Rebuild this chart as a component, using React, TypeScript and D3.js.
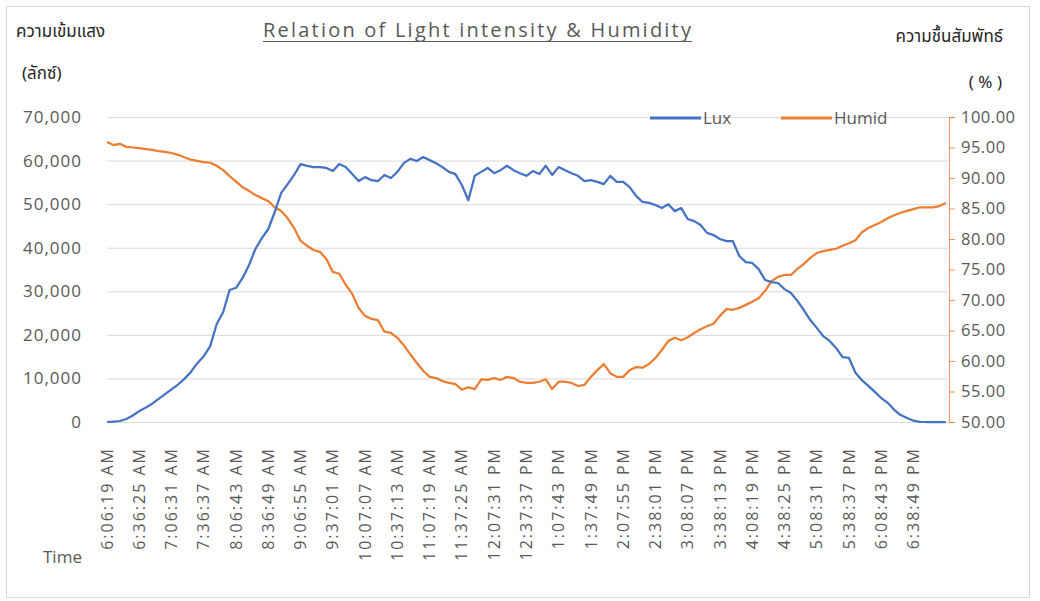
import { useEffect, useRef } from "react";
import * as d3 from "d3";

// x axis labels, one for every 10th sample (about 3 min per sample)
const timeLabels = [
  "6:06:19 AM", "6:36:25 AM", "7:06:31 AM", "7:36:37 AM", "8:06:43 AM",
  "8:36:49 AM", "9:06:55 AM", "9:37:01 AM", "10:07:07 AM", "10:37:13 AM",
  "11:07:19 AM", "11:37:25 AM", "12:07:31 PM", "12:37:37 PM", "1:07:43 PM",
  "1:37:49 PM", "2:07:55 PM", "2:38:01 PM", "3:08:07 PM", "3:38:13 PM",
  "4:08:19 PM", "4:38:25 PM", "5:08:31 PM", "5:38:37 PM", "6:08:43 PM",
  "6:38:49 PM",
];

// readings taken every 2nd sample
const luxValues = [
  0, 100, 230, 700, 1500, 2500, 3300, 4200, 5300, 6400,
  7500, 8600, 9900, 11500, 13500, 15100, 17400, 22500, 25200, 30300,
  30800, 33000, 36000, 39700, 42200, 44300, 48200, 52600, 54600, 56700,
  59200, 58800, 58500, 58500, 58300, 57600, 59200, 58500, 56900, 55300,
  56200, 55500, 55300, 56700, 56000, 57400, 59400, 60400, 59900, 60800,
  60100, 59400, 58500, 57400, 56900, 54400, 50900, 56500, 57400, 58300,
  57100, 57800, 58800, 57800, 57100, 56500, 57600, 56900, 58800, 56700,
  58500, 57800, 57100, 56500, 55300, 55500, 55100, 54600, 56500, 55100,
  55100, 53900, 51900, 50500, 50300, 49800, 49100, 50000, 48400, 49100,
  46600, 46100, 45200, 43400, 42900, 42000, 41500, 41500, 38100, 36700,
  36500, 35100, 32600, 32100, 31900, 30500, 29600, 27800, 25700, 23400,
  21600, 19700, 18600, 17000, 14900, 14700, 11300, 9600, 8300, 6900,
  5500, 4400, 2800, 1600, 900, 300, 50, 0, 0, 0, 0,
];

const humidValues = [
  95.9, 95.4, 95.6, 95.1, 95.0, 94.9, 94.75, 94.6, 94.4, 94.3,
  94.1, 93.8, 93.4, 93.0, 92.8, 92.6, 92.5, 92.0, 91.3, 90.3,
  89.4, 88.5, 87.9, 87.2, 86.7, 86.2, 85.2, 84.6, 83.4, 81.8,
  79.7, 78.9, 78.2, 77.9, 76.7, 74.6, 74.3, 72.5, 71.0, 68.7,
  67.4, 66.9, 66.7, 64.8, 64.6, 63.8, 62.6, 61.1, 59.7, 58.4,
  57.4, 57.2, 56.7, 56.4, 56.2, 55.3, 55.7, 55.4, 57.0, 56.9,
  57.2, 56.9, 57.4, 57.2, 56.6, 56.4, 56.4, 56.6, 57.0, 55.4,
  56.6, 56.6, 56.4, 55.9, 56.1, 57.4, 58.5, 59.5, 58.0, 57.4,
  57.4, 58.5, 59.0, 58.9, 59.5, 60.5, 61.8, 63.3, 63.8, 63.4,
  63.9, 64.6, 65.2, 65.7, 66.1, 67.4, 68.5, 68.4, 68.7, 69.2,
  69.7, 70.3, 71.5, 73.1, 73.8, 74.1, 74.1, 75.1, 75.9, 76.9,
  77.7, 78.0, 78.2, 78.4, 78.9, 79.3, 79.8, 81.1, 81.8, 82.3,
  82.8, 83.4, 83.9, 84.3, 84.6, 84.9, 85.2, 85.2, 85.2, 85.4, 85.9,
];

const luxTicks = [0, 10000, 20000, 30000, 40000, 50000, 60000, 70000];
const humidTicks = [50, 55, 60, 65, 70, 75, 80, 85, 90, 95, 100];

const W = 1040;
const H = 601;
const FONT = "'Open Sans', 'Noto Sans', sans-serif";
const THAI = "'Noto Sans Thai', 'Tahoma', 'Loma', 'Garuda', 'Noto Sans', sans-serif";
const TEXT = "#595959";
const BLUE = "#4472C4";
const ORANGE = "#ED7D31";

const App = () => {
  const ref = useRef<SVGSVGElement | null>(null);

  useEffect(() => {
    if (!ref.current) return;
    const svg = d3.select(ref.current);
    svg.selectAll("*").remove();

    const margin = { top: 117, right: 91, bottom: 179, left: 107 };
    const x0 = margin.left;
    const x1 = W - margin.right;
    const y0 = margin.top;
    const y1 = H - margin.bottom;

    const x = d3.scaleLinear().domain([0, 261]).range([x0, x1]);
    const yLux = d3.scaleLinear().domain([0, 70000]).range([y1, y0]);
    const yHum = d3.scaleLinear().domain([50, 100]).range([y1, y0]);

    svg.append("rect").attr("width", W).attr("height", H).attr("fill", "#fff");
    // chart frame
    svg
      .append("rect")
      .attr("x", 6.5)
      .attr("y", 6.5)
      .attr("width", 1023)
      .attr("height", 591)
      .attr("fill", "none")
      .attr("stroke", "#d9d9d9");

    // gridlines
    svg
      .append("g")
      .attr("transform", `translate(${x0},0)`)
      .call(d3.axisLeft(yLux).tickValues(luxTicks).tickSize(-(x1 - x0)).tickFormat(() => ""))
      .call((g) => g.select(".domain").remove())
      .call((g) => g.selectAll("line").attr("stroke", "#d9d9d9"));

    // left axis labels
    svg
      .append("g")
      .selectAll("text")
      .data(luxTicks)
      .enter()
      .append("text")
      .attr("x", 82)
      .attr("y", (d) => yLux(d))
      .attr("dy", "0.35em")
      .attr("text-anchor", "end")
      .style("font-family", FONT)
      .style("font-size", "17px")
      .style("letter-spacing", "1px")
      .style("fill", TEXT)
      .text((d) => d3.format(",")(d));

    // right axis
    const right = svg
      .append("g")
      .attr("transform", `translate(${x1},0)`)
      .call(d3.axisRight(yHum).tickValues(humidTicks).tickSize(6).tickPadding(6).tickFormat(d3.format(".2f")));
    right.select(".domain").attr("stroke", ORANGE).attr("stroke-opacity", 0.8);
    right.selectAll("line").attr("stroke", ORANGE).attr("stroke-opacity", 0.8);
    right
      .selectAll("text")
      .style("font-family", FONT)
      .style("font-size", "16.5px")
      .style("letter-spacing", "0.5px")
      .style("fill", TEXT);

    // x labels
    svg
      .append("g")
      .selectAll("text")
      .data(timeLabels)
      .enter()
      .append("text")
      .attr("transform", (d, i) => `translate(${x(i * 10)},447) rotate(-90)`)
      .attr("dy", "0.35em")
      .attr("text-anchor", "end")
      .style("font-family", FONT)
      .style("font-size", "16px")
      .style("letter-spacing", "2px")
      .style("fill", TEXT)
      .text((d) => d);

    // lines
    const luxLine = d3
      .line<number>()
      .x((d, i) => x(i * 2))
      .y((d) => yLux(d));
    const humLine = d3
      .line<number>()
      .x((d, i) => x(i * 2))
      .y((d) => yHum(d));

    svg
      .append("path")
      .datum(humidValues)
      .attr("d", humLine)
      .attr("fill", "none")
      .attr("stroke", ORANGE)
      .attr("stroke-width", 2.25)
      .attr("stroke-linejoin", "round");

    svg
      .append("path")
      .datum(luxValues)
      .attr("d", luxLine)
      .attr("fill", "none")
      .attr("stroke", BLUE)
      .attr("stroke-width", 2.25)
      .attr("stroke-linejoin", "round");

    // legend
    const legend = [
      { name: "Lux", color: BLUE, x: 650 },
      { name: "Humid", color: ORANGE, x: 781 },
    ];
    const lg = svg.append("g");
    legend.forEach((l) => {
      lg.append("line")
        .attr("x1", l.x)
        .attr("x2", l.x + 51)
        .attr("y1", y0 + 1)
        .attr("y2", y0 + 1)
        .attr("stroke", l.color)
        .attr("stroke-width", 3);
      lg.append("text")
        .attr("x", l.x + 53)
        .attr("y", y0 + 1)
        .attr("dy", "0.35em")
        .style("font-family", FONT)
        .style("font-size", "17px")
        .style("fill", TEXT)
        .text(l.name);
    });

    // title
    svg
      .append("text")
      .attr("x", 477)
      .attr("y", 37)
      .attr("text-anchor", "middle")
      .attr("textLength", 428)
      .attr("lengthAdjust", "spacing")
      .style("font-family", FONT)
      .style("font-size", "20px")
      .style("fill", TEXT)
      .text("Relation of Light intensity & Humidity");
    svg
      .append("line")
      .attr("x1", 263)
      .attr("x2", 692)
      .attr("y1", 41.5)
      .attr("y2", 41.5)
      .attr("stroke", TEXT)
      .attr("stroke-width", 1);

    // axis titles
    const label = (t: string, xx: number, yy: number, anchor: string, family: string, size: number) =>
      svg
        .append("text")
        .attr("x", xx)
        .attr("y", yy)
        .attr("text-anchor", anchor)
        .style("font-family", family)
        .style("font-size", `${size}px`)
        .style("fill", "#262626")
        .text(t);

    label("ความเข้มแสง", 16, 37, "start", THAI, 17);
    label("(ลักซ์)", 22, 79, "start", THAI, 17);
    label("ความชื้นสัมพัทธ์", 1003, 42, "end", THAI, 17);
    label("( % )", 1002, 88, "end", THAI, 17);
    label("Time", 43, 563, "start", FONT, 17).style("fill", TEXT);
  }, []);

  return (
    <svg
      ref={ref}
      width={W}
      height={H}
      style={{ position: "absolute", left: 0, top: 0, display: "block" }}
    />
  );
};

export default App;
